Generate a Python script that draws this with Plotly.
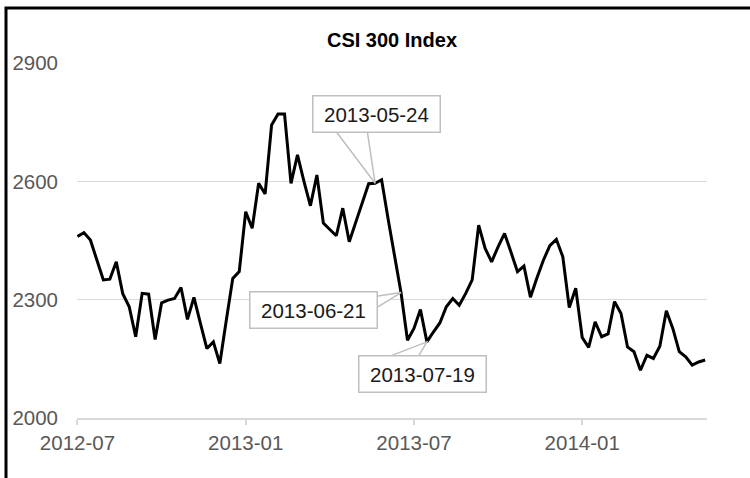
import pandas as pd
import plotly.graph_objects as go

# weekly (Friday) closes of the CSI 300 index
week_ending = pd.date_range("2012-07-06", periods=98, freq="W-FRI")
csi300_close = [
    2460, 2470, 2451, 2400, 2350, 2352, 2396, 2315, 2282, 2206,
    2316, 2314, 2199, 2292, 2299, 2303, 2331, 2250, 2306, 2240,
    2176, 2193, 2138, 2248, 2354, 2371, 2523, 2481, 2595, 2568,
    2743, 2771, 2771, 2595, 2667, 2600, 2538, 2616, 2494, 2478,
    2462, 2532, 2447, 2496, 2545, 2594, 2595, 2604, 2505, 2410,
    2318, 2197, 2227, 2275, 2193, 2218, 2241, 2282, 2303, 2286,
    2316, 2350, 2489, 2430, 2396, 2434, 2468, 2420, 2371, 2385,
    2306, 2355, 2400, 2437, 2453, 2409, 2280, 2329, 2204, 2179,
    2244, 2206, 2213, 2295, 2265, 2180, 2168, 2121, 2159, 2151,
    2182, 2272, 2227, 2168, 2155, 2134, 2142, 2147,
]
label_dates = ["2013-05-24", "2013-06-21", "2013-07-19"]
y_ticks = [2000, 2300, 2600, 2900]

# callout box offset (px) and wedge path (px, relative to the point)
CALLOUTS = {
    "2013-05-24": (1, 69, "M-40,53 L0,0 L-8,53 Z"),
    "2013-06-21": (-88, -17, "M-26,-4 L0,0 L-26,-16 Z"),
    "2013-07-19": (-4, -32, "M-44,-17 L0,0 L-10,-17 Z"),
}
GRID = "#d9d9d9"
CALLOUT_LINE = "#bfbfbf"
FONT = "Liberation Sans, Arial, sans-serif"

close = pd.Series(csi300_close, index=week_ending)

fig = go.Figure()
fig.add_trace(go.Scatter(
    x=week_ending, y=csi300_close, mode="lines",
    line={"color": "black", "width": 3},
    hoverinfo="skip", showlegend=False,
))

shapes = [
    # frame: only the top and left edges fall inside the picture
    {"type": "rect", "xref": "paper", "yref": "paper",
     "x0": -0.1127, "x1": 1.3, "y0": -0.6, "y1": 1.155,
     "line": {"color": "black", "width": 3}, "layer": "below"},
]
annotations = []
for d in label_dates:
    xs, ys, wedge = CALLOUTS[d]
    ts = pd.Timestamp(d)
    shapes.append({
        "type": "path", "xref": "x", "yref": "y",
        "xsizemode": "pixel", "ysizemode": "pixel",
        "xanchor": ts, "yanchor": float(close[ts]),
        "path": wedge, "fillcolor": "white",
        "line": {"color": CALLOUT_LINE, "width": 1.5}, "layer": "above",
    })
    annotations.append({
        "x": ts, "y": float(close[ts]), "xref": "x", "yref": "y",
        "text": d, "showarrow": False, "xshift": xs, "yshift": ys,
        "font": {"family": FONT, "size": 20.5, "color": "#1a1a1a"},
        "bgcolor": "white", "bordercolor": CALLOUT_LINE, "borderwidth": 1.5,
        "borderpad": 4, "width": 118, "height": 27,
    })

fig.update_layout(
    width=750, height=478,
    margin={"l": 77, "r": 43, "t": 63, "b": 60},
    paper_bgcolor="white", plot_bgcolor="white",
    font={"family": FONT, "size": 20.5, "color": "#595959"},
    title={"text": "<b>CSI 300 Index</b>", "x": 0.5, "xref": "paper",
           "y": 1 - 40 / 478, "yref": "container", "yanchor": "middle",
           "xanchor": "center",
           "font": {"family": FONT, "size": 20, "color": "black"}},
    xaxis={
        "type": "date",
        "range": ["2012-07-05 12:00", "2014-05-18"],
        "tickvals": list(week_ending[::26]), "tickformat": "%Y-%m",
        "showgrid": False, "showline": True, "linecolor": GRID, "linewidth": 2,
        "ticks": "outside", "ticklen": 5, "tickcolor": GRID, "tickwidth": 1.5,
        "zeroline": False,
    },
    yaxis={
        "range": [2000, 2900], "tickvals": y_ticks,
        "showgrid": True, "gridcolor": GRID, "gridwidth": 1,
        "zeroline": False, "showline": False, "ticks": "",
        "ticklabelstandoff": 18,
    },
    shapes=shapes,
    annotations=annotations,
)

# drop the page's default body margin so the figure sits at the window corner
fig.write_html(
    "out.html",
    config={"displayModeBar": False},
    post_script="document.body.style.margin = '0';",
)
